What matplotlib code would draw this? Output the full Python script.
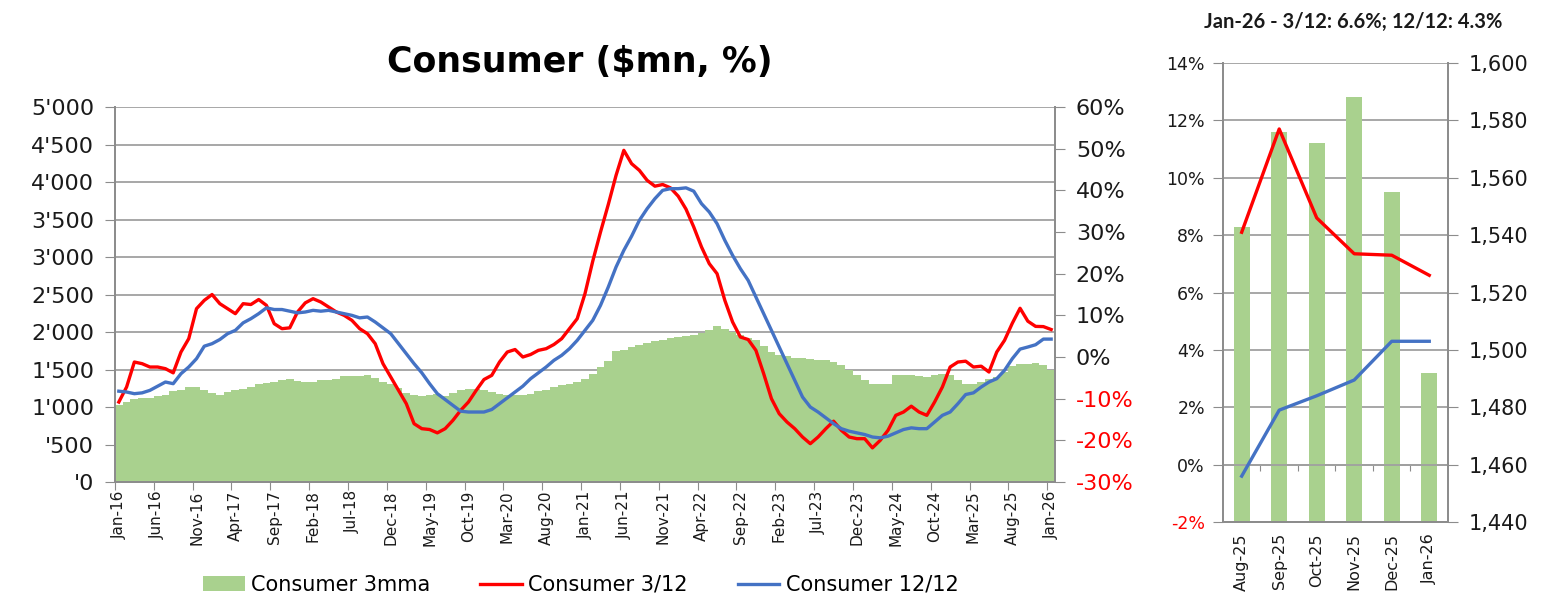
import numpy as np
import pandas as pd
import matplotlib.pyplot as plt
from matplotlib.ticker import FuncFormatter
from matplotlib.patches import Patch
from matplotlib.lines import Line2D

# 月次データ (Jan-16 〜 Jan-26)
months = pd.date_range("2016-01-01", periods=121, freq="MS").strftime("%b-%y").tolist()

cons_3mma = [
    1022, 1067, 1102, 1120, 1124, 1142, 1164, 1209, 1231, 1267,
    1267, 1231, 1187, 1156, 1200, 1222, 1244, 1267, 1302, 1320,
    1333, 1356, 1373, 1342, 1333, 1333, 1356, 1356, 1378, 1409,
    1409, 1418, 1422, 1391, 1333, 1302, 1258, 1187, 1164, 1147,
    1156, 1169, 1142, 1187, 1222, 1244, 1244, 1222, 1200, 1178,
    1156, 1156, 1156, 1178, 1209, 1231, 1267, 1289, 1311, 1333,
    1378, 1444, 1533, 1613, 1747, 1764, 1800, 1822, 1853, 1880,
    1898, 1924, 1933, 1942, 1956, 1987, 2031, 2076, 2044, 2000,
    1956, 1924, 1889, 1809, 1733, 1689, 1676, 1658, 1653, 1644,
    1631, 1631, 1600, 1556, 1498, 1422, 1364, 1302, 1302, 1311,
    1422, 1422, 1422, 1409, 1400, 1422, 1444, 1422, 1364, 1302,
    1311, 1333, 1378, 1400, 1467, 1543, 1576, 1572, 1588, 1555,
    1492,
]

cons_3_12 = [
    -10.8, -7.2, -1.2, -1.6, -2.4, -2.4, -2.8, -3.8, 1.2, 4.4,
    11.6, 13.6, 15.0, 12.8, 11.6, 10.4, 12.8, 12.6, 13.8, 12.4,
    8.0, 6.8, 7.0, 10.8, 13.0, 14.0, 13.2, 12.0, 10.8, 10.0,
    8.8, 6.8, 5.6, 3.2, -1.6, -4.8, -8.0, -11.2, -16.0, -17.2,
    -17.4, -18.2, -17.2, -15.2, -12.8, -10.8, -8.0, -5.4, -4.4, -1.2,
    1.2, 1.8, 0.0, 0.6, 1.6, 2.0, 3.0, 4.4, 6.8, 9.2,
    15.2, 23.0, 30.0, 36.6, 43.6, 49.6, 46.4, 44.8, 42.4, 41.0,
    41.4, 40.6, 38.6, 35.5, 31.2, 26.4, 22.4, 20.0, 13.6, 8.4,
    4.8, 4.2, 1.6, -4.0, -10.0, -13.6, -15.6, -17.2, -19.2, -20.8,
    -19.2, -17.2, -15.4, -17.6, -19.2, -19.6, -19.6, -21.8, -20.0, -17.6,
    -14.0, -13.2, -11.8, -13.2, -14.0, -10.8, -7.2, -2.4, -1.2, -1.0,
    -2.4, -2.2, -3.6, 1.2, 4.0, 8.1, 11.7, 8.6, 7.35, 7.3,
    6.6,
]

cons_12_12 = [
    -8.2, -8.4, -8.8, -8.6, -8.0, -7.0, -6.0, -6.4, -4.0, -2.4,
    -0.4, 2.6, 3.2, 4.2, 5.6, 6.4, 8.2, 9.2, 10.4, 11.8,
    11.4, 11.4, 11.0, 10.6, 10.8, 11.2, 11.0, 11.2, 10.8, 10.4,
    10.0, 9.4, 9.6, 8.4, 7.0, 5.6, 3.2, 0.8, -1.6, -3.8,
    -6.4, -8.8, -10.2, -11.6, -13.0, -13.2, -13.2, -13.2, -12.6, -11.2,
    -9.8, -8.4, -7.0, -5.2, -3.8, -2.4, -0.8, 0.4, 2.0, 4.0,
    6.4, 8.8, 12.4, 16.8, 21.6, 25.6, 29.0, 32.8, 35.6, 38.0,
    40.0, 40.4, 40.4, 40.6, 39.8, 36.8, 34.8, 32.0, 28.0, 24.4,
    21.2, 18.4, 14.4, 10.4, 6.4, 2.4, -1.6, -5.6, -9.6, -12.0,
    -13.2, -14.6, -16.0, -17.2, -17.8, -18.2, -18.6, -19.2, -19.4, -19.0,
    -18.2, -17.4, -17.0, -17.2, -17.2, -15.6, -14.0, -13.2, -11.2, -9.0,
    -8.6, -7.2, -6.0, -5.2, -3.2, -0.4, 1.9, 2.4, 2.95, 4.3,
    4.3,
]

GREEN = "#a9d18e"
RED = "#ff0000"
BLUE = "#4472c4"
GRID = "#a0a0a0"
SPINE = "#8c8c8c"
TXT = "#1a1a1a"


def fmt_level(v, pos):
    v = int(round(v))
    return f"{v // 1000}'{v % 1000:03d}" if v >= 1000 else f"'{v}"


fig = plt.figure(figsize=(15.49, 6.08), dpi=100, facecolor="white")

# ---- 左: 全期間 ----
ax = fig.add_axes([0.0742, 0.2072, 0.6069, 0.6168])
x = np.arange(len(months))
ax.bar(x, cons_3mma, width=1.0, color=GREEN, linewidth=0)
ax.set_xlim(-0.5, len(months) - 0.5)
ax.set_ylim(0, 5000)
ax.set_yticks(np.arange(0, 5001, 500))
ax.yaxis.set_major_formatter(FuncFormatter(fmt_level))
ax.grid(axis="y", color=GRID, lw=1.3)
ax.set_axisbelow(True)

# 目盛り線は区切り位置、ラベルは5ヶ月ごと
ax.set_xticks(np.arange(-0.5, len(months) - 1, 5))
ax.set_xticklabels([])
ax.set_xticks(x[::5], labels=[months[i] for i in x[::5]], minor=True)
ax.tick_params(axis="x", which="major", length=6, color=SPINE, direction="out")
ax.tick_params(axis="x", which="minor", length=0, labelsize=11, labelrotation=90,
               pad=6, labelcolor=TXT)
ax.tick_params(axis="y", length=7, color=SPINE, labelsize=16, pad=8, labelcolor=TXT)

ax2 = ax.twinx()
ax2.plot(x, cons_3_12, color=RED, lw=2.4, solid_joinstyle="round")
ax2.plot(x, cons_12_12, color=BLUE, lw=2.4, solid_joinstyle="round")
ax2.set_ylim(-30, 60)
pct_ticks = np.arange(-30, 61, 10)
ax2.set_yticks(pct_ticks, labels=[f"{v}%" for v in pct_ticks])
for lab, v in zip(ax2.get_yticklabels(), pct_ticks):
    lab.set_color(RED if v < 0 else TXT)
ax2.tick_params(axis="y", length=7, color=SPINE, labelsize=16, pad=8)

for a in (ax, ax2):
    a.spines["top"].set_visible(False)
    for s in ("left", "right", "bottom"):
        a.spines[s].set_color(SPINE)
        a.spines[s].set_linewidth(1.3)

fig.text(0.374, 0.898, r"Consumer (\$mn, %)", ha="center", va="center",
         fontsize=25, fontweight="bold", family="DejaVu Sans", color="black")

handles = [Patch(facecolor=GREEN, edgecolor="none"),
           Line2D([], [], color=RED, lw=2.4),
           Line2D([], [], color=BLUE, lw=2.4)]
fig.legend(handles, ["Consumer 3mma", "Consumer 3/12", "Consumer 12/12"],
           loc="center", bbox_to_anchor=(0.375, 0.038), ncol=3, frameon=False,
           fontsize=15, handlelength=2.0, handletextpad=0.3, columnspacing=2.4)

# ---- 右: 直近6ヶ月 ----
n = 6
rx = np.arange(n)
axr = fig.add_axes([0.7895, 0.1414, 0.1453, 0.755])
axb = axr.twinx()
axr.set_zorder(axb.get_zorder() + 1)
axr.patch.set_visible(False)

axb.bar(rx, cons_3mma[-n:], width=0.43, color=GREEN, linewidth=0)
axb.set_ylim(1440, 1600)
lvl_ticks = np.arange(1440, 1601, 20)
axb.set_yticks(lvl_ticks, labels=[f"{v:,}" for v in lvl_ticks])
axb.grid(axis="y", color=GRID, lw=1.3)
axb.set_axisbelow(True)
axb.tick_params(axis="y", length=7, color=SPINE, labelsize=15, pad=8, labelcolor=TXT)

axr.plot(rx, cons_3_12[-n:], color=RED, lw=2.4)
axr.plot(rx, cons_12_12[-n:], color=BLUE, lw=2.4)
axr.set_ylim(-2, 14)
r_ticks = np.arange(-2, 15, 2)
axr.set_yticks(r_ticks, labels=[f"{v}%" for v in r_ticks])
for lab, v in zip(axr.get_yticklabels(), r_ticks):
    lab.set_color(RED if v < 0 else TXT)
axr.tick_params(axis="y", length=7, color=SPINE, labelsize=12.5, pad=6)
axr.set_xlim(-0.5, n - 0.5)
axr.set_xticks(rx, labels=months[-n:])
axr.tick_params(axis="x", length=0, labelsize=11.5, labelrotation=90, pad=8,
                labelcolor=TXT)

# 0%の位置にカテゴリ軸の目盛り
sec = axr.secondary_xaxis(2 / 16)
sec.set_xticks(rx[:-1] + 0.5)
sec.set_xticklabels([])
sec.tick_params(length=4, color=SPINE, direction="out")
sec.spines["bottom"].set_color(GRID)
sec.spines["bottom"].set_linewidth(1.3)

for a in (axr, axb):
    a.spines["top"].set_visible(False)
    for s in ("left", "right", "bottom"):
        a.spines[s].set_color(SPINE)
        a.spines[s].set_linewidth(1.3)

fig.text(0.8736, 0.964,
         f"{months[-1]} - 3/12: {cons_3_12[-1]:.1f}%; 12/12: {cons_12_12[-1]:.1f}%",
         ha="center", va="center", fontsize=14.5, fontweight="bold",
         family=["Lato", "DejaVu Sans"], color=TXT)

fig.savefig("out.png", dpi=100, facecolor="white")
